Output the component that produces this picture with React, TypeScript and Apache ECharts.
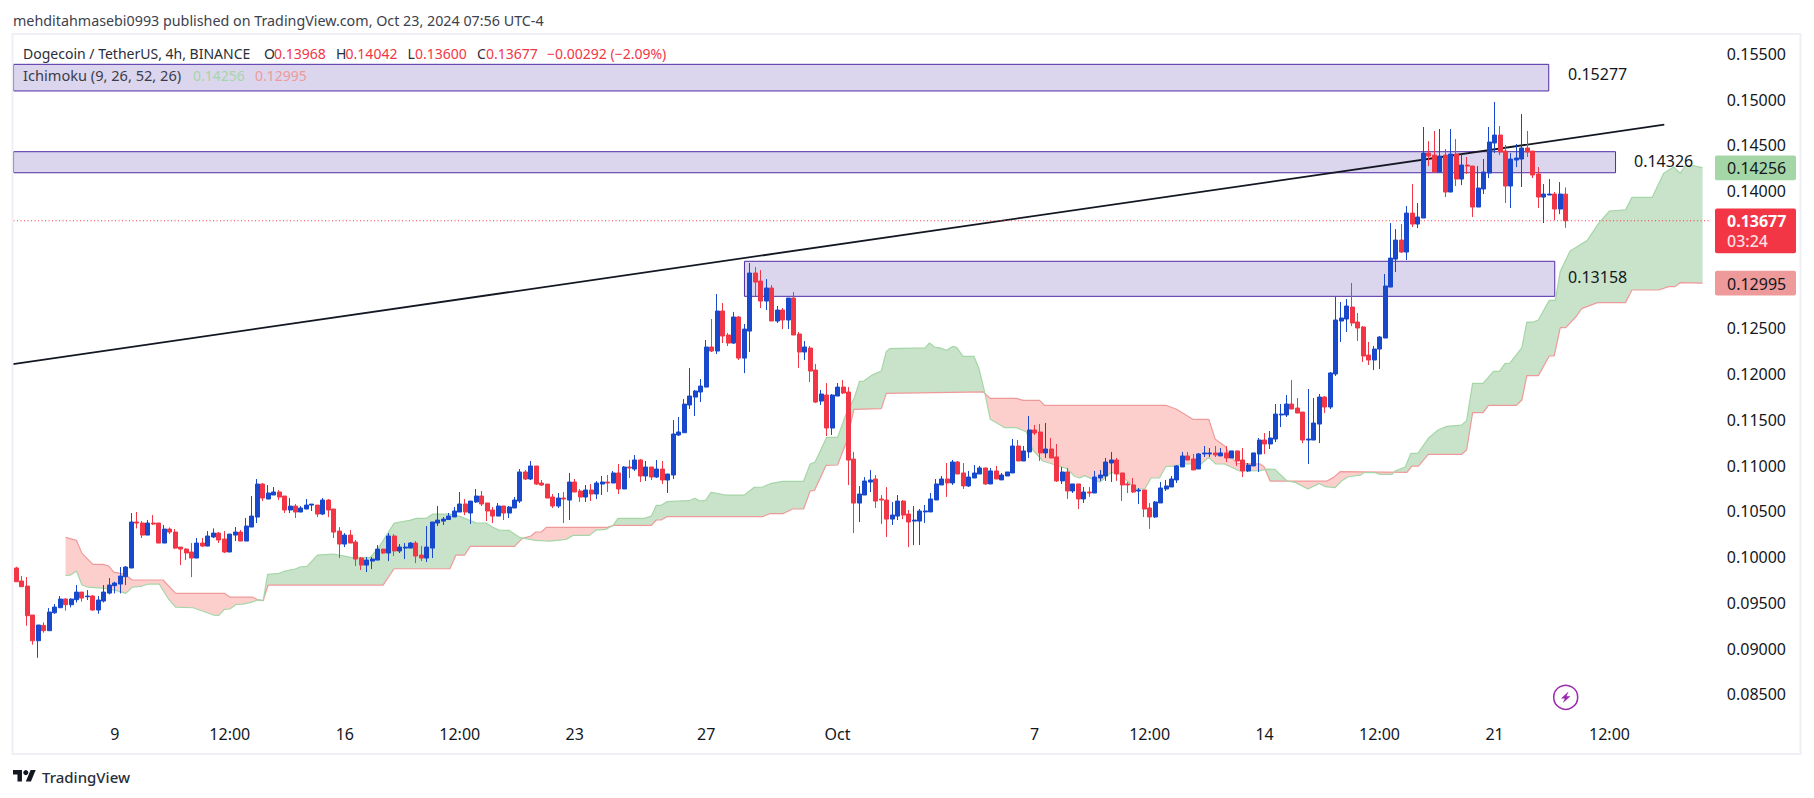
import React, { useEffect, useRef } from "react";
import * as echarts from "echarts";

const FONT = '"Noto Sans", sans-serif';
const UP = "#1848cc";
const DOWN = "#f23645";
const INK = "#131722";

const opens = [
.09881,.09739,.09684,.09367,.09086,.09254,.09196,.09392,.09447,.09542,
.09480,.09535,.09618,.09567,.09575,.09422,.09520,.09607,.09688,.09706,
.09786,.09881,.10384,.10373,.10241,.10373,.10373,.10154,.10307,.10274,
.10110,.10088,.10056,.09990,.10154,.10121,.10220,.10263,.10198,.10056,
.10241,.10274,.10176,.10329,.10438,.10799,.10635,.10679,.10712,.10668,
.10515,.10558,.10493,.10526,.10569,.10569,.10471,.10624,.10526,.10285,
.10143,.10241,.10165,.09990,.09913,.09957,.09968,.10088,.10045,.10231,
.10067,.10099,.10099,.10154,.10023,.09990,.10099,.10373,.10394,.10412,
.10439,.10493,.10581,.10482,.10603,.10668,.10592,.10515,.10449,.10559,
.10482,.10537,.10613,.10931,.10854,.10996,.10810,.10799,.10657,.10559,
.10646,.10624,.10821,.10723,.10657,.10734,.10690,.10799,.10821,.10810,
.10920,.10745,.10985,.10963,.11062,.10887,.10985,.10876,.10963,.10843,
.10898,.11335,.11360,.11663,.11750,.11805,.11859,.12297,.12253,.12690,
.12428,.12340,.12625,.12176,.12471,.13106,.13018,.12799,.12942,.12581,
.12701,.12592,.12832,.12439,.12242,.12286,.12045,.11706,.11772,.11411,
.11761,.11859,.11805,.11072,.10591,.10679,.10821,.10854,.10635,.10624,
.10416,.10449,.10613,.10471,.10394,.10394,.10494,.10494,.10625,.10789,
.10854,.10811,.11040,.10920,.10778,.10865,.10909,.10975,.10800,.10942,
.10844,.10887,.10920,.11215,.11051,.11150,.11390,.11368,.11139,.11182,
.11095,.10833,.10931,.10723,.10800,.10636,.10712,.10701,.10865,.10887,
.11029,.11062,.10920,.10800,.10789,.10723,.10734,.10537,.10439,.10592,
.10745,.10767,.10844,.10986,.11106,.11073,.10964,.11128,.11128,.11139,
.11106,.11139,.11084,.11161,.11062,.10942,.10997,.11127,.11280,.11237,
.11291,.11554,.11554,.11674,.11630,.11586,.11280,.11280,.11455,.11750,
.11641,.12002,.12581,.12603,.12734,.12570,.12516,.12209,.12155,.12275,
.12395,.12952,.13258,.13466,.13335,.13761,.13641,.13707,.14417,.14395,
.14210,.14395,.13991,.14406,.14133,.14286,.14275,.13827,.14024,.14199,
.14527,.14614,.14439,.14057,.14341,.14352,.14472,.14439,.14188,.13936,
.13958,.13969,.13805,.13968];

const closes = [
.09731,.09677,.09360,.09086,.09258,.09196,.09400,.09454,.09542,.09480,
.09542,.09618,.09553,.09575,.09422,.09531,.09618,.09695,.09717,.09793,
.09892,.10384,.10373,.10241,.10373,.10362,.10154,.10307,.10274,.10099,
.10088,.10045,.09990,.10154,.10121,.10231,.10263,.10187,.10056,.10252,
.10274,.10176,.10340,.10449,.10799,.10646,.10701,.10712,.10657,.10515,
.10558,.10493,.10537,.10569,.10580,.10471,.10624,.10515,.10274,.10143,
.10241,.10154,.09979,.09913,.09968,.09979,.10088,.10045,.10231,.10067,
.10110,.10110,.10154,.10012,.09990,.10110,.10384,.10405,.10416,.10449,
.10504,.10581,.10493,.10613,.10668,.10581,.10504,.10449,.10559,.10482,
.10548,.10624,.10931,.10854,.10996,.10799,.10788,.10646,.10559,.10646,
.10635,.10821,.10712,.10657,.10734,.10690,.10810,.10821,.10810,.10920,
.10745,.10985,.10974,.11062,.10887,.10985,.10876,.10963,.10843,.10909,
.11346,.11368,.11673,.11761,.11816,.11870,.12297,.12253,.12690,.12417,
.12340,.12625,.12176,.12493,.13106,.13007,.12799,.12942,.12581,.12701,
.12592,.12832,.12428,.12242,.12297,.12034,.11695,.11783,.11411,.11772,
.11859,.11794,.11061,.10591,.10690,.10832,.10843,.10613,.10624,.10416,
.10460,.10613,.10460,.10384,.10405,.10504,.10505,.10636,.10800,.10854,
.10811,.11040,.10909,.10778,.10876,.10920,.10975,.10800,.10942,.10854,
.10898,.10931,.11215,.11051,.11161,.11390,.11357,.11139,.11182,.11084,
.10833,.10931,.10723,.10800,.10636,.10712,.10701,.10876,.10898,.11040,
.11062,.10909,.10789,.10789,.10712,.10734,.10526,.10439,.10603,.10756,
.10778,.10854,.10997,.11106,.11062,.10953,.11128,.11139,.11139,.11117,
.11139,.11084,.11161,.11051,.10942,.11007,.11139,.11280,.11237,.11302,
.11564,.11564,.11674,.11619,.11575,.11280,.11291,.11466,.11750,.11641,
.12013,.12592,.12614,.12745,.12559,.12505,.12199,.12155,.12275,.12406,
.12964,.13269,.13466,.13335,.13761,.13641,.13718,.14417,.14384,.14210,
.14384,.13991,.14406,.14133,.14286,.14275,.13827,.14035,.14210,.14538,
.14614,.14428,.14057,.14352,.14363,.14472,.14428,.14177,.13936,.13969,
.13969,.13805,.13969,.13677];

const lows = [
.09731,.09677,.09250,.09043,.08900,.09174,.09196,.09378,.09447,.09414,
.09451,.09505,.09513,.09531,.09414,.09381,.09505,.09593,.09604,.09604,
.09695,.09881,.10314,.10209,.10241,.10351,.10154,.10154,.10252,.10088,
.09913,.09968,.09782,.09990,.10110,.10121,.10209,.10154,.10045,.10056,
.10176,.10176,.10176,.10329,.10373,.10613,.10635,.10679,.10624,.10482,
.10482,.10427,.10493,.10526,.10504,.10438,.10460,.10438,.10209,.09990,
.10110,.10154,.09903,.09859,.09837,.09870,.09968,.10034,.09957,.10012,
.10045,.09979,.10099,.09935,.09957,.09946,.09990,.10340,.10351,.10405,
.10439,.10493,.10460,.10362,.10592,.10559,.10395,.10373,.10449,.10406,
.10428,.10537,.10592,.10843,.10843,.10788,.10777,.10646,.10537,.10537,
.10373,.10406,.10712,.10603,.10603,.10613,.10635,.10679,.10712,.10810,
.10690,.10745,.10865,.10941,.10821,.10832,.10843,.10865,.10799,.10701,
.10854,.11324,.11360,.11619,.11542,.11695,.11859,.12242,.12220,.12340,
.12308,.12329,.12154,.12012,.12242,.12854,.12723,.12701,.12581,.12559,
.12493,.12493,.12428,.12067,.12154,.11914,.11684,.11663,.11324,.11335,
.11761,.11783,.10788,.10263,.10384,.10679,.10711,.10537,.10362,.10220,
.10351,.10405,.10416,.10110,.10132,.10132,.10373,.10494,.10625,.10789,
.10658,.10789,.10909,.10745,.10767,.10865,.10909,.10789,.10800,.10854,
.10844,.10887,.10920,.11051,.11051,.11084,.11335,.11051,.11084,.11084,
.10822,.10800,.10636,.10701,.10526,.10592,.10658,.10701,.10833,.10833,
.10822,.10833,.10614,.10701,.10701,.10581,.10439,.10308,.10428,.10592,
.10723,.10767,.10811,.10986,.11062,.10953,.10964,.11095,.11095,.11095,
.11106,.11040,.11084,.10997,.10876,.10931,.10997,.10930,.11127,.11182,
.11258,.11422,.11532,.11619,.11575,.11247,.11018,.11280,.11247,.11575,
.11619,.11980,.12352,.12461,.12526,.12363,.12133,.12100,.12045,.12056,
.12395,.12952,.13116,.13324,.13248,.13608,.13597,.13707,.14275,.14210,
.14210,.13936,.13991,.14057,.14067,.14188,.13718,.13827,.13969,.14144,
.14417,.14395,.13871,.13816,.14264,.14046,.14374,.14144,.13816,.13652,
.13958,.13685,.13750,.13600];

const highs = [
.09895,.09793,.09782,.09367,.09258,.09287,.09443,.09487,.09575,.09549,
.09549,.09695,.09618,.09640,.09586,.09575,.09695,.09771,.09731,.09892,
.09903,.10482,.10493,.10394,.10405,.10460,.10373,.10351,.10325,.10307,
.10110,.10099,.10154,.10209,.10209,.10285,.10314,.10274,.10285,.10252,
.10329,.10296,.10427,.10668,.10854,.10810,.10788,.10766,.10733,.10668,
.10646,.10580,.10558,.10635,.10580,.10569,.10646,.10635,.10526,.10329,
.10263,.10296,.10187,.10001,.10001,.10001,.10132,.10088,.10263,.10252,
.10143,.10154,.10165,.10176,.10121,.10340,.10384,.10558,.10438,.10482,
.10548,.10712,.10635,.10613,.10745,.10723,.10592,.10548,.10592,.10559,
.10559,.10657,.10963,.10952,.11051,.10996,.10843,.10799,.10690,.10701,
.10712,.10920,.10854,.10745,.10788,.10799,.10832,.10887,.10898,.10941,
.11018,.10996,.11062,.11116,.11073,.11051,.10985,.11062,.11051,.10909,
.11499,.11532,.11728,.12067,.11827,.11947,.12373,.12603,.12876,.12778,
.12450,.12679,.12635,.12548,.13215,.13171,.13138,.13040,.12974,.12745,
.12723,.12832,.12898,.12461,.12362,.12308,.12111,.11827,.11903,.11783,
.11903,.11936,.11859,.11149,.10777,.10875,.10952,.10897,.10679,.10766,
.10602,.10679,.10624,.10515,.10558,.10526,.10570,.10701,.10854,.10887,
.11029,.11062,.11051,.11029,.10942,.11007,.10997,.10975,.10975,.10997,
.10920,.10931,.11292,.11281,.11215,.11543,.11445,.11456,.11467,.11303,
.11237,.10986,.10975,.10800,.10800,.10767,.10767,.10942,.10953,.11084,
.11150,.11084,.10920,.10822,.10865,.10756,.10734,.10592,.10614,.10822,
.10844,.10887,.11007,.11150,.11150,.11128,.11139,.11215,.11193,.11215,
.11193,.11215,.11161,.11161,.11193,.11029,.11139,.11302,.11357,.11379,
.11674,.11674,.11772,.11936,.11739,.11586,.11838,.11739,.11783,.11761,
.12024,.12844,.12789,.12822,.12997,.12669,.12526,.12352,.12308,.12417,
.13095,.13652,.13586,.13641,.13838,.14078,.13871,.14702,.14548,.14658,
.14680,.14461,.14680,.14570,.14406,.14374,.14275,.14275,.14352,.14702,
.14975,.14712,.14505,.14417,.14516,.14844,.14658,.14439,.14264,.14078,
.14133,.13991,.14100,.14042];

// Ichimoku leading spans: bar index and price.
const leadAAt = [9,9.9,11,12,13,15.8,18,20,21.2,23,24.1,26.1,27.8,29.1,32.3,36,37,38,39,40.2,41.4,43.1,44.2,45.1,45.9,48,49.1,50.9,52,53.1,55,57.9,60.9,64.6,66.1,69,70,71.9,73.1,74.9,76.1,79.2,81,84,85.8,87,88.2,90,92,94.9,97.4,100.4,101.7,104.7,105.9,107.7,109,109.9,114.7,116,116.9,117.8,118.8,122.9,123.9,124.9,125.9,126.9,129.6,133,134.8,136.3,137.9,140,143.8,145,145.9,148,150,151.6,153.1,154,154.8,156.2,158,158.9,159.5,166,166.8,167.7,168.7,169.9,171.1,171.8,172.9,174.9,175.8,176.9,177.9,180.5,182.7,184.5,185.7,187.5,189.4,191.8,193.3,194.2,195.1,197.9,200,201.5,204.6,206.1,207.3,208.8,210,211.3,213.1,216.4,217.8,219.1,220.7,223.4,227.2,228.4,229.9,232.1,233.6,235.9,238,239.1,240.9,242.1,243.3,245.5,246.1,248.2,249.1,251.3,251.9,253.7,254.7,256,257.9,259.7,261.3,264,264.9,266,267.9,269.8,270.9,271.9,272.8,275,275.9,277.1,278,280,281.1,282,283.8,286.9,289,291,293.9,295.1,298.8,300.9,302.7,303.9,304.8,306.7,308];
const leadA = [.09801,.09804,.09848,.09695,.09673,.09662,.09640,.09604,.09673,.09684,.09706,.09706,.09542,.09454,.09447,.09367,.09363,.09429,.09433,.09484,.09487,.09509,.09535,.09524,.09811,.09822,.09848,.09870,.09895,.09899,.10023,.10034,.10001,.09994,.10096,.10369,.10384,.10402,.10424,.10424,.10471,.10471,.10446,.10373,.10373,.10326,.10296,.10293,.10213,.10184,.10176,.10194,.10238,.10238,.10296,.10304,.10347,.10424,.10424,.10449,.10566,.10566,.10606,.10617,.10643,.10614,.10621,.10708,.10679,.10679,.10763,.10767,.10807,.10829,.10829,.11018,.11039,.11309,.11309,.11571,.11746,.11921,.11925,.11987,.12034,.12246,.12279,.12287,.12341,.12297,.12287,.12261,.12305,.12290,.12195,.12195,.12068,.11798,.11507,.11416,.11416,.11368,.11171,.11051,.11015,.10971,.10884,.10865,.10891,.10818,.10927,.10909,.10745,.10745,.10865,.10865,.10993,.10993,.11018,.11018,.11091,.11018,.11018,.10942,.10945,.10963,.10959,.10832,.10817,.10744,.10806,.10770,.10759,.10835,.10879,.10897,.10923,.10923,.10905,.10905,.10945,.10985,.11134,.11134,.11299,.11390,.11430,.11444,.11492,.11900,.11900,.12031,.12031,.12115,.12122,.12290,.12570,.12570,.12592,.12807,.12807,.13121,.13347,.13460,.13649,.13784,.13795,.13933,.13933,.14196,.14265,.14196,.14276,.14276,.14256];

const leadBAt = [9,11,12,14,15.8,16.9,17.8,19.7,21.2,26.8,29.1,38,39,43.1,44.2,45.1,46,67,69,79.2,80.3,81.9,82.9,91,92.4,94,94.9,95.9,96.8,108,109.1,116,116.9,117.8,118.8,136.3,137.6,140,141.8,143.8,145,145.8,147.9,150,151.6,153,158,158.9,176.6,177.9,182.7,183.9,186.9,187.8,210,211.9,214.9,217.8,219,220.7,222.8,227.2,227.9,229,239.4,240.6,241.8,254,254.9,256.1,257.9,264,264.9,266,267.9,268.9,274,275,275.9,278,280,280.9,282,283,285,285.9,288.8,293.9,295.1,300,301.8,303,303.9,308];
const leadB = [.10216,.10183,.10041,.09921,.09921,.09903,.09837,.09815,.09750,.09750,.09604,.09604,.09564,.09564,.09531,.09524,.09695,.09695,.09873,.09873,.10023,.10023,.10118,.10118,.10202,.10231,.10275,.10275,.10326,.10326,.10347,.10347,.10406,.10406,.10442,.10442,.10475,.10475,.10526,.10526,.10723,.10730,.11003,.11007,.11254,.11615,.11623,.11790,.11806,.11736,.11736,.11714,.11714,.11660,.11660,.11616,.11507,.11507,.11288,.11215,.11026,.11018,.10988,.10832,.10832,.10872,.10934,.10927,.10996,.10996,.11124,.11124,.11171,.11579,.11579,.11659,.11659,.11718,.11984,.11984,.12199,.12199,.12508,.12508,.12636,.12716,.12782,.12782,.12920,.12920,.12957,.12957,.13000,.12995];

const trendAt = [-0.6, 301];
const trendPrice = [0.12111, 0.14727];

const boxStart = [-0.5, -0.5, 133];
const boxEnd = [279.9, 292.1, 281];
const boxTop = [0.15387, 0.14432, 0.13234];
const boxBottom = [0.15096, 0.14202, 0.12851];

const lastPrice = 0.13677;
const countdown = "03:24";
const tagValues = [0.14256, 0.13677, 0.12995];
const priceMin = 0.08;
const priceMax = 0.16;
const priceStep = 0.005;
const hiddenTicks = ["0.08000", "0.13000", "0.13500", "0.16000"];

const slotCount = 310;
const timeLabels: Record<number, string> = {
  18: "9", 39: "12:00", 60: "16", 81: "12:00", 102: "23", 126: "27", 150: "Oct",
  186: "7", 207: "12:00", 228: "14", 249: "12:00", 270: "21", 291: "12:00",
};

function valueAt(xs: number[], ys: number[], x: number) {
  for (let k = 1; k < xs.length; k++) {
    if (x <= xs[k]) {
      const t = (x - xs[k - 1]) / (xs[k] - xs[k - 1]);
      return ys[k - 1] + t * (ys[k] - ys[k - 1]);
    }
  }
  return ys[ys.length - 1];
}

// Splits the span between the two lines into runs of one colour, cutting at each crossing.
function cloudRuns() {
  const xs = Array.from(new Set([...leadAAt, ...leadBAt])).sort((p, q) => p - q);
  const runs: { bull: boolean; top: number[][]; bottom: number[][] }[] = [];
  let cur: any = null;
  let prev: any = null;
  for (const x of xs) {
    const a = valueAt(leadAAt, leadA, x);
    const b = valueAt(leadBAt, leadB, x);
    const bull = a >= b;
    if (prev && prev.bull !== bull) {
      const d0 = prev.a - prev.b;
      const d1 = a - b;
      const t = d0 / (d0 - d1);
      const cx = prev.x + t * (x - prev.x);
      const cy = prev.a + t * (a - prev.a);
      cur.top.push([cx, cy]);
      cur.bottom.push([cx, cy]);
      cur = { bull, top: [[cx, cy]], bottom: [[cx, cy]] };
      runs.push(cur);
    } else if (!cur) {
      cur = { bull, top: [], bottom: [] };
      runs.push(cur);
    }
    cur.top.push([x, a]);
    cur.bottom.push([x, b]);
    prev = { x, a, b, bull };
  }
  return runs;
}

function label(text: string, x: number, y: number, fill: string, size: number, extra: any = {}) {
  return {
    type: "text", x, y, z: 20, silent: true,
    style: { text, fill, font: `${extra.weight || 400} ${size}px ${FONT}`, align: "left", verticalAlign: "middle" },
  };
}

export default function App() {
  const ref = useRef<HTMLDivElement>(null);
  useEffect(() => {
    const chart = echarts.init(ref.current!, undefined, { renderer: "svg" });
    const runs = cloudRuns();
    const categories = Array.from({ length: slotCount }, (_, i) => timeLabels[i] || "");
    const candles = opens.map((o, i) => [o, closes[i], lows[i], highs[i]]);

    chart.setOption({
      animation: false,
      backgroundColor: "#ffffff",
      textStyle: { fontFamily: FONT },
      grid: { left: 13.55, top: 8.26, width: 1697.25, height: 731.84, containLabel: false },
      xAxis: [
        {
          type: "category", data: categories, boundaryGap: true, offset: -14,
          axisLine: { show: false }, axisTick: { show: false }, splitLine: { show: false },
          axisLabel: {
            interval: (i: number) => !!timeLabels[i], margin: 0,
            color: INK, fontSize: 16, fontFamily: FONT, hideOverlap: false, verticalAlign: "top",
          },
        },
        { type: "value", show: false, min: -0.5, max: slotCount - 0.5, splitLine: { show: false } },
      ],
      yAxis: {
        type: "value", position: "right", min: priceMin, max: priceMax, interval: priceStep, scale: true,
        axisLine: { show: false }, axisTick: { show: false }, splitLine: { show: false },
        axisLabel: {
          margin: 16, color: INK, fontSize: 16, fontFamily: FONT,
          formatter: (v: number) => (hiddenTicks.includes(v.toFixed(5)) ? "" : v.toFixed(5)),
        },
      },
      series: [
        {
          type: "custom", name: "Levels", xAxisIndex: 1, z: 1, silent: true, clip: false,
          data: boxStart.map((_, i) => [i, boxTop[i]]),
          renderItem: (p: any, api: any) => {
            const i = p.dataIndex;
            const a = api.coord([boxStart[i], boxTop[i]]);
            const b = api.coord([boxEnd[i], boxBottom[i]]);
            return {
              type: "rect",
              shape: { x: a[0], y: a[1], width: b[0] - a[0], height: b[1] - a[1] },
              style: { fill: "rgba(81,45,168,0.2)", stroke: "#4f2ca6", lineWidth: 1 },
            };
          },
        },
        {
          type: "custom", name: "Cloud", xAxisIndex: 1, z: 2, silent: true, clip: false,
          data: runs.map((_, i) => [i, 0.1]),
          renderItem: (p: any, api: any) => {
            const r = runs[p.dataIndex];
            const pts = [...r.top, ...[...r.bottom].reverse()].map((q) => api.coord(q));
            return { type: "polygon", shape: { points: pts }, style: { fill: r.bull ? "#c9e3ca" : "#fccfcd" } };
          },
        },
        {
          type: "line", name: "Leading span B", xAxisIndex: 1, z: 3, symbol: "none", silent: true,
          data: leadBAt.map((x, i) => [x, leadB[i]]), lineStyle: { color: "#ef9a9a", width: 1.2 },
        },
        {
          type: "line", name: "Leading span A", xAxisIndex: 1, z: 3, symbol: "none", silent: true,
          data: leadAAt.map((x, i) => [x, leadA[i]]), lineStyle: { color: "#a5d6a7", width: 1.2 },
        },
        {
          type: "line", name: "Trend", xAxisIndex: 1, z: 4, symbol: "none", silent: true,
          data: trendAt.map((x, i) => [x, trendPrice[i]]), lineStyle: { color: INK, width: 1.8 },
        },
        {
          type: "line", name: "Last price", xAxisIndex: 1, z: 4, symbol: "none", silent: true,
          data: [[-0.5, lastPrice], [slotCount - 0.5, lastPrice]],
          lineStyle: { color: DOWN, width: 1.2, type: [1, 2.5] },
        },
        {
          type: "candlestick", name: "DOGEUSDT", xAxisIndex: 0, z: 5, barWidth: 4.5, data: candles,
          itemStyle: { color: UP, color0: DOWN, borderColor: UP, borderColor0: DOWN, borderWidth: 1 },
        },
        {
          type: "custom", name: "Price tags", xAxisIndex: 1, z: 6, silent: true, clip: false,
          data: tagValues.map((v, i) => [i, v]),
          renderItem: (p: any, api: any) => {
            const i = p.dataIndex;
            const y = api.coord([0, tagValues[i]])[1];
            const isLast = i === 1;
            const fill = ["#a5d6a7", DOWN, "#ef9a9a"][i];
            const h = isLast ? 44.7 : 24.7;
            const top = isLast ? y - 12.2 : y - h / 2;
            const children: any[] = [
              { type: "rect", shape: { x: 1715, y: top, width: 81, height: h, r: 2 }, style: { fill } },
              {
                type: "text",
                style: {
                  text: tagValues[i].toFixed(5), x: 1727, y: y + 0.5,
                  fill: isLast ? "#ffffff" : INK, font: `${isLast ? 700 : 400} 16px ${FONT}`,
                  align: "left", verticalAlign: "middle",
                },
              },
            ];
            if (isLast) {
              children.push({
                type: "text",
                style: {
                  text: countdown, x: 1727, y: y + 20, fill: "#ffdfe2", font: `500 16px ${FONT}`,
                  align: "left", verticalAlign: "middle",
                },
              });
            }
            return { type: "group", children };
          },
        },
      ],
      graphic: [
        { type: "rect", silent: true, z: 20, shape: { x: 12.5, y: 34, width: 1788, height: 720 }, style: { fill: "none", stroke: "#eff0f6", lineWidth: 2 } },
        label("mehditahmasebi0993 published on TradingView.com, Oct 23, 2024 07:56 UTC-4", 13, 20, "#3d414c", 14.3),
        label("Dogecoin / TetherUS, 4h, BINANCE", 23, 53, "#2a2e39", 14),
        label("O", 264, 53, "#2a2e39", 14),
        label("0.13968", 274, 53, DOWN, 14),
        label("H", 336, 53, "#2a2e39", 14),
        label("0.14042", 345.6, 53, DOWN, 14),
        label("L", 407.6, 53, "#2a2e39", 14),
        label("0.13600", 415, 53, DOWN, 14),
        label("C", 477, 53, "#2a2e39", 14),
        label("0.13677", 486, 53, DOWN, 14),
        label("\u22120.00292 (\u22122.09%)", 547, 53, DOWN, 14),
        label("Ichimoku (9, 26, 52, 26)", 23, 75, "#3a3e4a", 14.6),
        label("0.14256", 193, 75, "#a5d6a7", 14),
        label("0.12995", 255, 75, "#ef9a9a", 14),
        label("0.15277", 1568, 74, INK, 16),
        label("0.14326", 1634, 160.7, INK, 16),
        label("0.13158", 1568, 276.7, INK, 16),
        { type: "circle", silent: true, z: 20, shape: { cx: 1565.7, cy: 697.3, r: 12 }, style: { fill: "#ffffff", stroke: "#9c27b0", lineWidth: 1.5 } },
        { type: "polygon", silent: true, z: 21, shape: { points: [[1568.5, 691.5], [1561, 698.5], [1564.8, 698.5], [1562.8, 703], [1570.5, 696.3], [1566.5, 696.3]] }, style: { fill: "#9c27b0" } },
        {
          type: "group", x: 13, y: 767.5, scaleX: 0.64, scaleY: 0.64, silent: true,
          children: [
            { type: "polygon", shape: { points: [[0, 4], [14, 4], [14, 22], [7, 22], [7, 11], [0, 11]] }, style: { fill: INK } },
            { type: "polygon", shape: { points: [[20, 22], [28, 22], [35.5, 4], [27.5, 4]] }, style: { fill: INK } },
            { type: "circle", shape: { cx: 20, cy: 8, r: 4 }, style: { fill: INK } },
          ],
        },
        label("TradingView", 42, 777, "#2a2e39", 15, { weight: 500 }),
      ],
    });
    return () => chart.dispose();
  }, []);
  return <div ref={ref} style={{ position: "absolute", left: 0, top: 0, width: 1814, height: 798 }} />;
}
